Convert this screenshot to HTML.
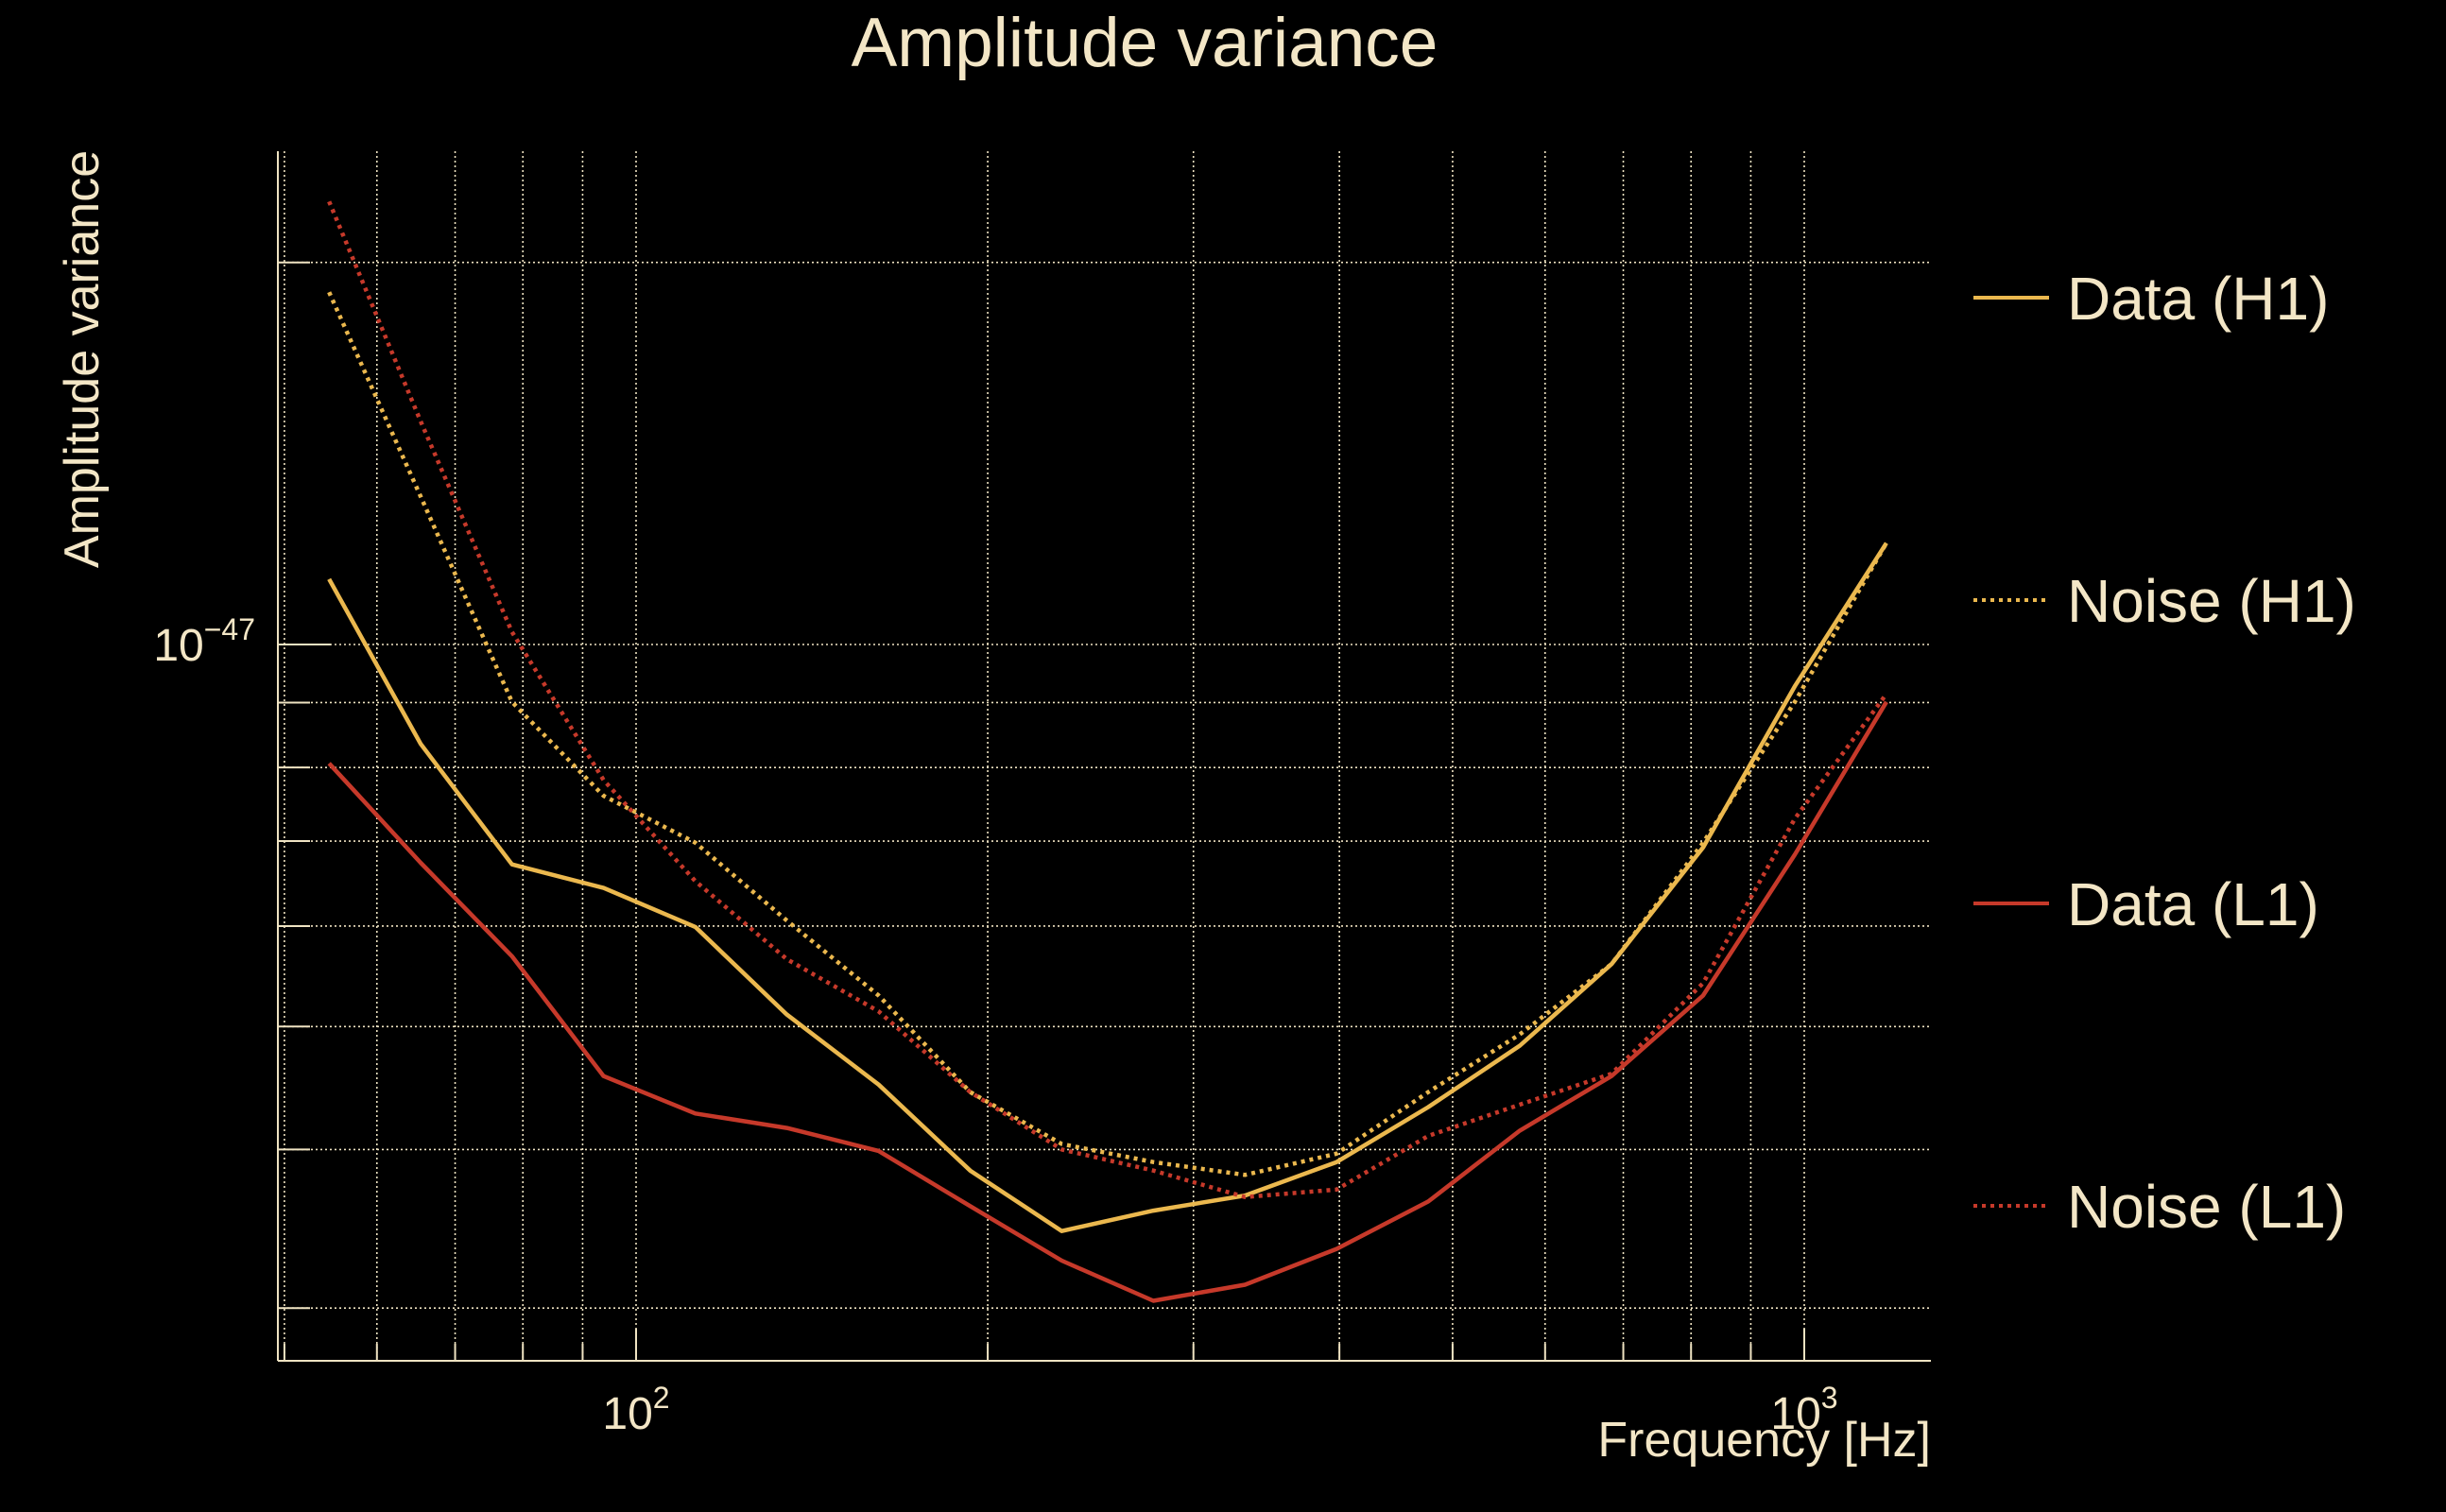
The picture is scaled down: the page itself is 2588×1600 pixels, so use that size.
<!DOCTYPE html>
<html><head><meta charset="utf-8"><style>
html,body{margin:0;padding:0;background:#000;}
svg{display:block;}
text{font-family:"Liberation Sans","DejaVu Sans",sans-serif;fill:#f3e6c6;}
</style></head><body>
<svg id="chart" width="2588" height="1600" viewBox="0 0 2588 1600" xmlns="http://www.w3.org/2000/svg">
<rect width="2588" height="1600" fill="#000"/>
<text x="1211" y="70" font-size="73" text-anchor="middle">Amplitude variance</text>
<text transform="translate(104,380) rotate(-90)" font-size="52" text-anchor="middle">Amplitude variance</text>
<text x="2043" y="1541" font-size="52" text-anchor="end">Frequency [Hz]</text>
<g id="grid"></g>
<g id="axes"></g>
<g id="series"></g>
<g id="legend"></g>
</svg>
<script>
const freqs = [54.6,65.4,78.3,93.8,112.4,134.6,161.3,193.2,231.4,277.2,332.1,397.8,476.6,570.9,683.9,819.3,981.5,1175.8];
const dataH1 = [11.26,8.35,6.71,6.43,5.99,5.11,4.50,3.85,3.45,3.58,3.68,3.91,4.32,4.83,5.60,6.92,9.27,12.02];
const noiseH1 = [18.95,13.08,9.01,7.60,6.98,6.06,5.29,4.44,4.04,3.91,3.82,3.97,4.44,4.93,5.60,6.98,9.01,12.02];
const dataL1 = [8.06,6.73,5.68,4.57,4.27,4.16,3.99,3.61,3.27,3.04,3.13,3.34,3.64,4.14,4.57,5.29,6.83,9.01];
const noiseL1 = [22.34,14.99,10.23,7.82,6.51,5.65,5.14,4.44,4.00,3.85,3.67,3.72,4.10,4.34,4.59,5.41,7.29,9.14];
const seriesNames = ["Data (H1)","Noise (H1)","Data (L1)","Noise (L1)"];
const yGridValues = [20,10,9,8,7,6,5,4,3];
const xGridValues = [50,60,70,80,90,100,200,300,400,500,600,700,800,900,1000];
const xTickLabels = [["100","2"],["1000","3"]];
const yTickLabels = [["10","−47"]];

const NS="http://www.w3.org/2000/svg";
const L=294,R=2043,T=160,B=1440;
function xs(f){return 673+(Math.log10(f)-2)*1236;}
function ys(v){return 682-(Math.log10(v*1e-48)+47)*1343;}
function mk(tag,attrs,parent){const e=document.createElementNS(NS,tag);for(const k in attrs)e.setAttribute(k,attrs[k]);parent.appendChild(e);return e;}
const grid=document.getElementById('grid'),axes=document.getElementById('axes'),ser=document.getElementById('series'),leg=document.getElementById('legend');
const gc="#efe3c2";
yGridValues.forEach(v=>{const y=ys(v);
 const g=mk('line',{x1:L,x2:R,y1:y,y2:y,stroke:gc,'stroke-width':1.6,'stroke-dasharray':'2 3'},grid);
 
 
 const major=(v===10);
 const t=mk('line',{x1:L,x2:L+(major?56:34),y1:y,y2:y,stroke:gc,'stroke-width':2},axes);
 
 
});
xGridValues.forEach(f=>{const x=xs(f);
 const g=mk('line',{x1:x,x2:x,y1:T,y2:B,stroke:gc,'stroke-width':1.6,'stroke-dasharray':'2 3'},grid);
 
 
 const major=(f===100||f===1000);
 const t=mk('line',{x1:x,x2:x,y1:B,y2:B-(major?34:18),stroke:gc,'stroke-width':2},axes);
 
 
});
const ax1=mk('line',{x1:L,x2:L,y1:T,y2:B,stroke:gc,'stroke-width':2},axes);


const ax2=mk('line',{x1:L,x2:R,y1:B,y2:B,stroke:gc,'stroke-width':2},axes);


xTickLabels.forEach(l=>{const x=xs(+l[0]);
 const t=mk('text',{x:x,y:1512,'font-size':48,'text-anchor':'middle'},axes);
 
 
 t.textContent="10";
 const s=mk('tspan',{dy:-22,'font-size':32},t);s.textContent=l[1];
});
yTickLabels.forEach(l=>{
 const t=mk('text',{x:270,y:ys(10)+17,'font-size':48,'text-anchor':'end'},axes);
 
 
 t.textContent=l[0];
 const s=mk('tspan',{dy:-22,'font-size':32},t);s.textContent=l[1];
});
const YEL="#ebb84e",RED="#c6392a";
const specs=[[dataH1,YEL,null,'data-h1-line'],[noiseH1,YEL,'4 5','noise-h1-line'],[dataL1,RED,null,'data-l1-line'],[noiseL1,RED,'4 5','noise-l1-line']];
specs.forEach((sp,i)=>{
 const pts=sp[0].map((v,j)=>xs(freqs[j]).toFixed(1)+","+ys(v).toFixed(1)).join(" ");
 const a={points:pts,fill:'none',stroke:sp[1],'stroke-width':4.5,'stroke-linejoin':'round'};
 if(sp[2])a['stroke-dasharray']=sp[2];
 const p=mk('polyline',a,ser);
 
 
 const ly=[315,635,956,1276][i];
 const ll=mk('line',{x1:2088,x2:2168,y1:ly,y2:ly,stroke:sp[1],'stroke-width':4,'stroke-dasharray':sp[2]||'none'},leg);
 
 
 const lt=mk('text',{x:2187,y:ly+23,'font-size':64},leg);
 
 
 lt.textContent=seriesNames[i];
});
</script>
</body></html>
